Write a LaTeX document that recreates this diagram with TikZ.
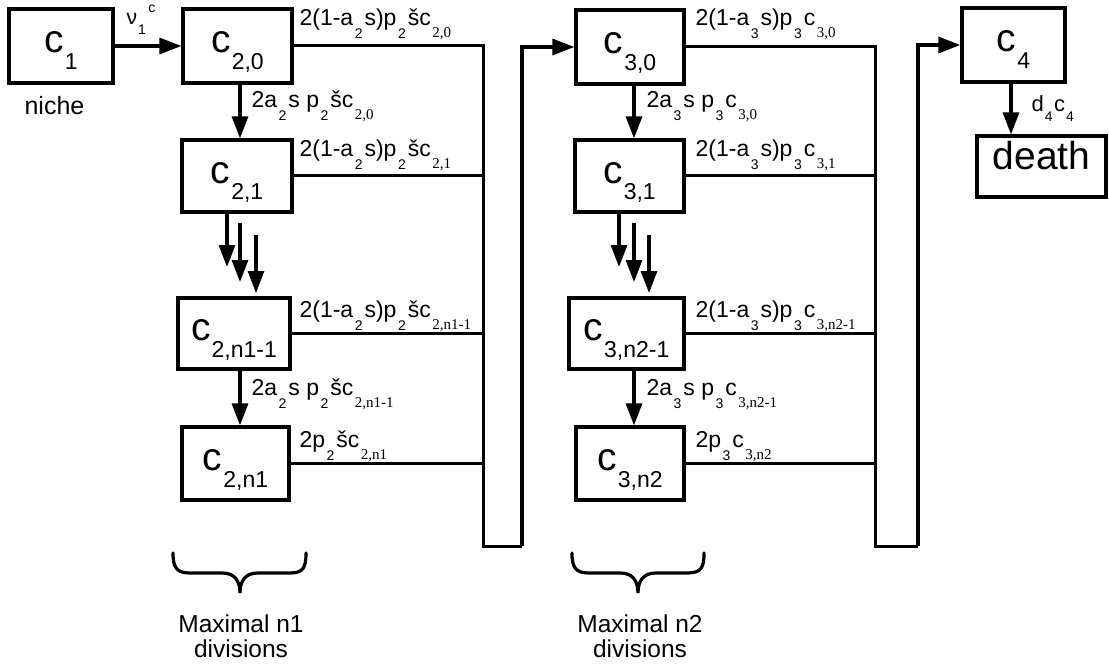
\documentclass[tikz,border=0pt]{standalone}
\usepackage{fontspec}
\setmainfont{Liberation Sans}
\newfontfamily\serifsub{Liberation Serif}
\usetikzlibrary{arrows.meta}
% label subscripts (sans / serif)
\newcommand\lsb[1]{\kern1.5pt\raisebox{-13pt}{\fontsize{14}{14}\selectfont #1}\kern2pt}
\newcommand\lsr[1]{\kern1.5pt\raisebox{-12pt}{\serifsub\fontsize{15}{15}\selectfont #1}}
% node subscript
\newcommand\nsb[1]{\kern1pt\raisebox{-17pt}{\fontsize{23}{23}\selectfont #1}}
\newcommand\cc[1]{\fontsize{39}{39}\selectfont c\nsb{#1}}
\begin{document}
\begin{tikzpicture}[x=1pt,y=-1pt,line width=3.2pt,
  box/.style={draw,rectangle,inner sep=0pt,text height=25pt,text depth=11pt,line width=3.2pt},
  lab/.style={anchor=base west,inner sep=0pt,font=\fontsize{23}{23}\selectfont},
  arr/.style={-{Triangle[length=22pt,width=16pt]},line width=3.2pt},
  conn/.style={line width=3pt},
  bottomtxt/.style={anchor=base,inner sep=0pt,font=\fontsize{24.5}{25}\selectfont},
  bracestyle/.style={line width=3.2pt,line cap=round}]
\useasboundingbox (0,0) rectangle (1109,666);

% ---- boxes ----
\node[box,minimum width=104pt,minimum height=74pt] (c1) at (61,46) {\cc{1}};
\node[box,minimum width=109pt,minimum height=74pt] (c20) at (237.5,46) {\cc{2,0}};
\node[box,minimum width=110pt,minimum height=72pt] (c21) at (237,176) {\cc{2,1}};
\node[box,minimum width=112pt,minimum height=71pt] (c2m) at (234,333.5) {\cc{2,n1-1}};
\node[box,minimum width=107pt,minimum height=73pt] (c2n) at (235.5,463.5) {\cc{2,n1}};

\node[box,minimum width=108pt,minimum height=74pt] (c30) at (630,47) {\cc{3,0}};
\node[box,minimum width=109pt,minimum height=72pt] (c31) at (629.5,176) {\cc{3,1}};
\node[box,minimum width=115pt,minimum height=71pt] (c3m) at (626.5,333.5) {\cc{3,n2-1}};
\node[box,minimum width=108pt,minimum height=73pt] (c3n) at (630,463.5) {\cc{3,n2}};

\node[box,minimum width=103pt,minimum height=74pt] (c4) at (1013.5,45) {\cc{4}};
\node[box,minimum width=129pt,minimum height=61pt,text height=27pt,text depth=20pt,
      font=\fontsize{39}{39}\selectfont] (death) at (1041.5,166.5) {death};

\node[anchor=base west,inner sep=0pt,font=\fontsize{25}{25}\selectfont] (niche) at (23,115) {niche};

% ---- column coordinates ----
\coordinate (a2) at (240,0);
\coordinate (a3) at (634,0);
\coordinate (a4) at (1011,0);
\coordinate (bus2) at (483,546);
\coordinate (ret2) at (522,546);
\coordinate (bus3) at (875,546);
\coordinate (ret3) at (918,546);

% ---- arrows ----
\draw[arr] (c1.east) -- (c20.west);
\draw[arr] (c20.south -| a2) -- (c21.north -| a2);
\draw[arr] (c2m.south -| a2) -- (c2n.north -| a2);
\draw[arr] (c30.south -| a3) -- (c31.north -| a3);
\draw[arr] (c3m.south -| a3) -- (c3n.north -| a3);
\draw[arr] (c4.south -| a4) -- (death.north -| a4);

% triple arrows
\coordinate (t1s) at (227,212); \coordinate (t1e) at (227,267);
\coordinate (t2s) at (240,223); \coordinate (t2e) at (240,282);
\coordinate (t3s) at (256,235); \coordinate (t3e) at (256,293);
\draw[arr] (c21.south -| t1s) -- (t1e);
\draw[arr] (t2s) -- (t2e);
\draw[arr] (t3s) -- (t3e);
\coordinate (u1s) at (619,212); \coordinate (u1e) at (619,267);
\coordinate (u2s) at (634,223); \coordinate (u2e) at (634,282);
\coordinate (u3s) at (649,235); \coordinate (u3e) at (649,293);
\draw[arr] (c31.south -| u1s) -- (u1e);
\draw[arr] (u2s) -- (u2e);
\draw[arr] (u3s) -- (u3e);

% ---- buses ----
\draw[conn] (c20.east) -| (bus2) -- (ret2);
\draw[arr] (ret2) |- (c30.west);
\draw[conn] (c21.east) -- (c21.east -| bus2);
\draw[conn] (c2m.east) -- (c2m.east -| bus2);
\draw[conn] (c2n.east) -- (c2n.east -| bus2);

\draw[conn] (c30.east) -| (bus3) -- (ret3);
\draw[arr] (ret3) |- (c4.west);
\draw[conn] (c31.east) -- (c31.east -| bus3);
\draw[conn] (c3m.east) -- (c3m.east -| bus3);
\draw[conn] (c3n.east) -- (c3n.east -| bus3);

% ---- labels ----
\node[anchor=base west,inner sep=0pt,font=\fontsize{21}{21}\selectfont] (nu) at (125,25)
  {ν\kern1pt\raisebox{-10pt}{\fontsize{14}{14}\selectfont 1}\kern2.5pt\raisebox{12pt}{\fontsize{14}{14}\selectfont c}};
\node[anchor=base west,inner sep=0pt,font=\fontsize{22}{22}\selectfont] (dlab) at (1030,112)
  {d\kern1pt\raisebox{-10pt}{\fontsize{14}{14}\selectfont 4}\kern1.5pt c\kern1pt\raisebox{-10pt}{\fontsize{14}{14}\selectfont 4}};

\node[lab] (l20) at (298,26) {2(1-a\lsb{2}s)p\lsb{2}šc\lsr{2,0}};
\node[lab] (d20) at (250,108) {2a\lsb{2}s p\lsb{2}šc\lsr{2,0}};
\node[lab] (l21) at (298,157) {2(1-a\lsb{2}s)p\lsb{2}šc\lsr{2,1}};
\node[lab] (l2m) at (298,317) {2(1-a\lsb{2}s)p\lsb{2}šc\lsr{2,n1-1}};
\node[lab] (d2m) at (250,395) {2a\lsb{2}s p\lsb{2}šc\lsr{2,n1-1}};
\node[lab] (l2n) at (298,447) {2p\lsb{2}šc\lsr{2,n1}};

\node[lab] (l30) at (694,26) {2(1-a\lsb{3}s)p\lsb{3}c\lsr{3,0}};
\node[lab] (d30) at (645,108) {2a\lsb{3}s p\lsb{3}c\lsr{3,0}};
\node[lab] (l31) at (694,157) {2(1-a\lsb{3}s)p\lsb{3}c\lsr{3,1}};
\node[lab] (l3m) at (694,317) {2(1-a\lsb{3}s)p\lsb{3}c\lsr{3,n2-1}};
\node[lab] (d3m) at (645,395) {2a\lsb{3}s p\lsb{3}c\lsr{3,n2-1}};
\node[lab] (l3n) at (694,447) {2p\lsb{3}c\lsr{3,n2}};

% ---- braces ----
\draw[bracestyle] (173,553) .. controls (173,568) and (177,573) .. (190,573) -- (222,573)
  .. controls (234,573) and (240,580) .. (240,593)
  .. controls (240,580) and (246,573) .. (258,573) -- (290,573)
  .. controls (303,573) and (306,568) .. (306,553);
\draw[bracestyle] (572,553) .. controls (572,568) and (576,573) .. (589,573) -- (620,573)
  .. controls (632,573) and (638,580) .. (638,593)
  .. controls (638,580) and (644,573) .. (656,573) -- (687,573)
  .. controls (701,573) and (704,568) .. (704,553);

\node[bottomtxt] (m1a) at (241,632) {Maximal n1};
\node[bottomtxt] (m1b) at (241,657) {divisions};
\node[bottomtxt] (m2a) at (640,632) {Maximal n2};
\node[bottomtxt] (m2b) at (640,657) {divisions};
\end{tikzpicture}
\end{document}
